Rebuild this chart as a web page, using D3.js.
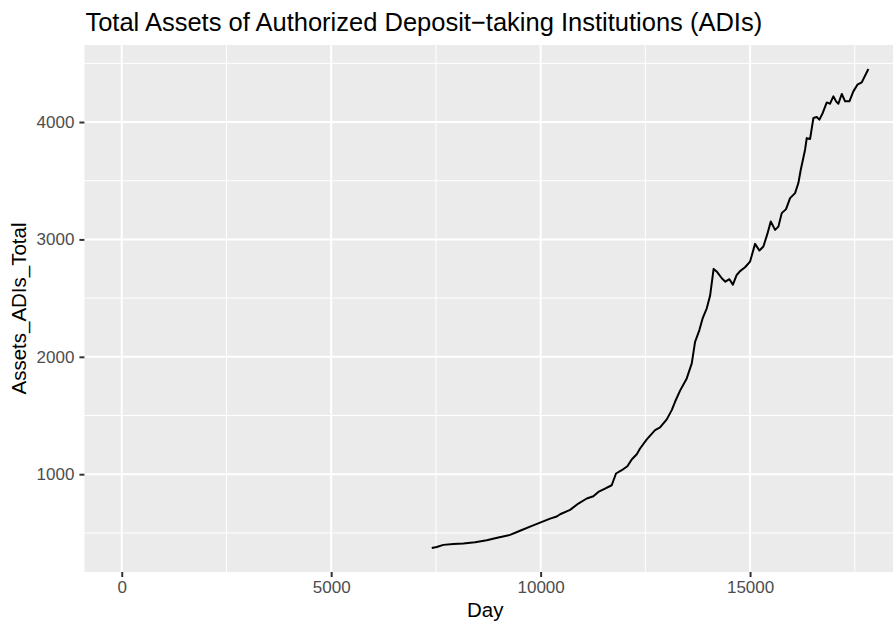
<!DOCTYPE html>
<html>
<head>
<meta charset="utf-8">
<script src="https://cdn.jsdelivr.net/npm/d3@7"></script>
<style>
  body { margin: 0; background: white; }
  text { font-family: "Liberation Sans", Arial, Helvetica, sans-serif; }
</style>
</head>
<body>
<svg id="chart" width="893" height="624"></svg>
<script>
// values
var day = [7401, 7520, 7678, 7917, 8155, 8435, 8714, 8991, 9270, 9509,
  9748, 9987, 10226, 10385, 10465, 10704, 10901, 11101, 11259, 11378,
  11538, 11697, 11800, 11937, 12071, 12175, 12295, 12374, 12534, 12732,
  12851, 13011, 13130, 13209, 13329, 13488, 13608, 13687, 13790, 13870,
  13966, 14045, 14130, 14210, 14330, 14410, 14506, 14590, 14681, 14761,
  14880, 15000, 15119, 15222, 15318, 15413, 15494, 15597, 15676, 15756,
  15859, 15955, 16074, 16153, 16210, 16313, 16353, 16432, 16512, 16591,
  16655, 16735, 16831, 16910, 16988, 17053, 17108, 17189, 17268, 17371,
  17466, 17562, 17666, 17824];
var assets = [371, 380, 398, 405, 410, 420, 437, 460, 483, 518,
  553, 588, 622, 640, 659, 696, 750, 793, 812, 849,
  878, 906, 1006, 1034, 1068, 1125, 1170, 1219, 1296, 1375,
  1398, 1467, 1546, 1617, 1712, 1816, 1944, 2128, 2228, 2330,
  2413, 2520, 2749, 2724, 2667, 2640, 2661, 2615, 2697, 2730,
  2763, 2811, 2962, 2905, 2939, 3047, 3152, 3081, 3109, 3224,
  3258, 3352, 3394, 3480, 3593, 3764, 3863, 3855, 4034, 4043,
  4020, 4077, 4167, 4156, 4219, 4176, 4156, 4239, 4176, 4176,
  4261, 4318, 4338, 4452];
var xMajor = [0, 5000, 10000, 15000];
var xMinor = [2500, 7500, 12500, 17500];
var yMajor = [1000, 2000, 3000, 4000];
var yMinor = [500, 1500, 2500, 3500, 4500];

var svg = d3.select("#chart");
var panel = {left: 84.4, right: 905.7, top: 45, bottom: 572};

// ggplot style 5% expansion, x limits include 0
function expand(ext) {
  var pad = (ext[1] - ext[0]) * 0.05;
  return [ext[0] - pad, ext[1] + pad];
}
var x = d3.scaleLinear()
  .domain(expand(d3.extent(day.concat([0]))))
  .range([panel.left, panel.right]);
var y = d3.scaleLinear()
  .domain(expand(d3.extent(assets)))
  .range([panel.bottom, panel.top]);

// panel background
svg.append("rect")
  .attr("x", panel.left)
  .attr("y", panel.top)
  .attr("width", panel.right - panel.left)
  .attr("height", panel.bottom - panel.top)
  .style("fill", "#EBEBEB");

var grid = svg.append("g");
// minor grid
grid.selectAll("line.xmin").data(xMinor).enter().append("line")
  .attr("x1", d => x(d)).attr("x2", d => x(d))
  .attr("y1", panel.top).attr("y2", panel.bottom)
  .style("stroke", "white").style("stroke-width", 1);
grid.selectAll("line.ymin").data(yMinor).enter().append("line")
  .attr("y1", d => y(d)).attr("y2", d => y(d))
  .attr("x1", panel.left).attr("x2", panel.right)
  .style("stroke", "white").style("stroke-width", 1);
// major grid
grid.selectAll("line.xmaj").data(xMajor).enter().append("line")
  .attr("x1", d => x(d)).attr("x2", d => x(d))
  .attr("y1", panel.top).attr("y2", panel.bottom)
  .style("stroke", "white").style("stroke-width", 2);
grid.selectAll("line.ymaj").data(yMajor).enter().append("line")
  .attr("y1", d => y(d)).attr("y2", d => y(d))
  .attr("x1", panel.left).attr("x2", panel.right)
  .style("stroke", "white").style("stroke-width", 2);

// the series
var line = d3.line()
  .x((d, i) => x(day[i]))
  .y(d => y(d));
svg.append("path")
  .datum(assets)
  .attr("d", line)
  .style("fill", "none")
  .style("stroke", "black")
  .style("stroke-width", 2)
  .style("stroke-linejoin", "round");

// axes
var xAxis = svg.append("g")
  .attr("transform", "translate(0," + panel.bottom + ")")
  .call(d3.axisBottom(x).tickValues(xMajor).tickSize(5).tickPadding(4).tickFormat(d3.format("d")));
var yAxis = svg.append("g")
  .attr("transform", "translate(" + panel.left + ",0)")
  .call(d3.axisLeft(y).tickValues(yMajor).tickSize(5).tickPadding(5).tickFormat(d3.format("d")));
[xAxis, yAxis].forEach(function(a) {
  a.select(".domain").remove();
  a.selectAll("line").style("stroke", "#333333").style("stroke-width", 2);
  a.selectAll("text")
    .style("fill", "#4D4D4D")
    .style("font-size", "17px")
    .style("font-family", "'Liberation Sans', Arial, sans-serif");
});

// titles
svg.append("text")
  .attr("x", panel.left + 1)
  .attr("y", 31)
  .style("font-size", "25.5px")
  .style("fill", "black")
  .text("Total Assets of Authorized Deposit\u2212taking Institutions (ADIs)");
svg.append("text")
  .attr("x", (panel.left + 893 - 7) / 2)
  .attr("y", 617)
  .attr("text-anchor", "middle")
  .style("font-size", "20.5px")
  .text("Day");
svg.append("text")
  .attr("transform", "translate(26," + (panel.top + panel.bottom) / 2 + ") rotate(-90)")
  .attr("text-anchor", "middle")
  .style("font-size", "20.5px")
  .text("Assets_ADIs_Total");
</script>
</body>
</html>
